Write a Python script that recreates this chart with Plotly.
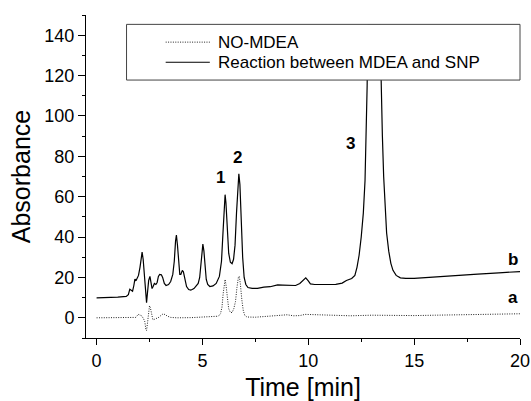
import plotly.graph_objects as go

# ---- data ----
series_names = ["NO-MDEA", "Reaction between MDEA and SNP"]

time_b = [0, 0.5, 1.0, 1.4, 1.5, 1.57, 1.63, 1.7, 1.76, 1.81, 1.86, 1.92, 1.98, 2.05, 2.1, 2.15,
          2.2, 2.26, 2.32, 2.36, 2.4, 2.46, 2.52, 2.57, 2.62, 2.67, 2.73, 2.8, 2.86, 2.92, 2.98,
          3.06, 3.12, 3.2, 3.28, 3.4, 3.5, 3.6, 3.67, 3.73, 3.77, 3.82, 3.87, 3.93, 3.98, 4.05,
          4.1, 4.17, 4.25, 4.35, 4.45, 4.6, 4.72, 4.8, 4.87, 4.93, 4.98, 5.02, 5.07, 5.12, 5.18,
          5.25, 5.35, 5.5, 5.65, 5.8, 5.9, 5.97, 6.03, 6.07, 6.11, 6.17, 6.24, 6.32, 6.4, 6.47,
          6.54, 6.61, 6.67, 6.72, 6.77, 6.83, 6.9, 6.97, 7.05, 7.15, 7.35, 7.6, 7.9, 8.2, 8.45,
          8.55, 8.8, 9.1, 9.4, 9.6, 9.75, 9.88, 10.0, 10.1, 10.3, 10.8, 11.3, 11.6, 11.8, 12.05,
          12.2, 12.3, 12.4, 12.5, 12.6, 12.68, 12.74, 12.78, 12.81, 12.83, 13.1, 13.37, 13.4,
          13.44, 13.5, 13.56, 13.62, 13.7, 13.8, 13.9, 14.0, 14.15, 14.35, 14.6, 15, 16, 17,
          18, 19, 20]
abs_b = [9.9, 10.0, 10.2, 10.6, 11.5, 14.2, 13.5, 13.2, 16, 19.2, 18.3, 19.5, 21, 25, 30.5, 32.5,
         29, 20, 11, 7.5, 12, 18.5, 20.5, 18, 14.5, 15.5, 17, 16.5, 17.5, 20.5, 21.5,
         21.3, 20, 17, 16, 16.5, 18, 21.5, 28, 38, 41, 36, 27, 21.5, 21.5, 23.5,
         22.8, 18.5, 15.5, 14, 13.7, 14.5, 16, 17, 20, 28, 35, 36.5, 33, 25, 19,
         16.5, 15.5, 15.8, 17, 20.5, 28, 42, 56, 61, 57, 44, 32, 27.5, 26.8, 29,
         36, 52, 66, 71.3, 66, 48, 30, 20, 16.5, 15, 14.6, 14.6, 15.2, 15.4, 15.8,
         16.3, 16.2, 16.2, 16, 17, 18.5, 19.8, 18.3, 16.8, 16.5, 16.5, 16.6, 17.2, 18.5, 19.5,
         21, 25, 31, 40, 52, 68, 90, 115, 140, 145, 145, 145, 138,
         115, 90, 70, 55, 42, 33, 27, 23.5, 21, 19.8, 19.5, 19.5, 20.1, 20.8,
         21.6, 22.3, 22.9]

time_a = [0, 1.0, 1.85, 1.97, 2.05, 2.13, 2.22, 2.28, 2.33, 2.36, 2.4, 2.45, 2.5, 2.54, 2.6, 2.66,
          2.72, 2.85, 2.95, 3.05, 3.15, 3.25, 3.35, 3.5, 3.8, 4.5, 5.0, 5.5, 5.75, 5.85, 5.92,
          5.98, 6.04, 6.07, 6.11, 6.17, 6.24, 6.32, 6.4, 6.48, 6.56, 6.63, 6.7, 6.74, 6.79,
          6.86, 6.93, 7.0, 7.1, 7.5, 8.2, 8.7, 9.0, 9.3, 9.6, 9.85, 10.3, 11, 12, 13, 14, 15,
          16, 17, 18, 19, 20]
abs_a = [0, 0, 0.2, 1.7, 1.5, 1.0, -0.5, -2, -6, -6.3, -3, 2, 6, 5, 1, -1,
         -0.8, -0.3, 0.3, 1.3, 2, 1.5, 0.8, 0.2, 0, 0.1, 0.3, 0.5, 0.8, 2, 5,
         12, 18.5, 19, 16.5, 9, 4.5, 2.7, 2.6, 4.5, 8, 15, 20.2, 20.5, 17,
         9, 3.5, 1.2, 0.4, 0.3, 0.7, 1.0, 1.5, 1.0, 1.1, 1.7, 1.6, 1.2, 1.0, 1.3, 1.1, 1.1,
         1.3, 1.4, 1.5, 1.7, 2.0]

peak_labels = ["1", "2", "3", "b", "a"]
peak_label_x = [5.86, 6.66, 11.97, 19.65, 19.68]
peak_label_y = [69.3, 79.5, 86.3, 29.1, 10.1]

x_ticks = [0, 5, 10, 15, 20]
y_ticks = [0, 20, 40, 60, 80, 100, 120, 140]

FONT = "Arial, 'Liberation Sans', sans-serif"
DOT = "1px,1.4px"
DOT_COLOR = "#222222"

fig = go.Figure()
fig.add_trace(go.Scatter(x=time_a, y=abs_a, mode="lines", name=series_names[0],
                         line=dict(color=DOT_COLOR, width=1, dash=DOT), showlegend=False))
fig.add_trace(go.Scatter(x=time_b, y=abs_b, mode="lines", name=series_names[1],
                         line=dict(color="black", width=1.2), showlegend=False))

for t, x, y in zip(peak_labels, peak_label_x, peak_label_y):
    fig.add_annotation(x=x, y=y, text="<b>%s</b>" % t, showarrow=False,
                       font=dict(family=FONT, size=17, color="black"))

# manual legend box (paper coordinates)
lx0, lx1, ly0, ly1 = 0.0934, 1.0, 0.7986, 0.971
fig.add_shape(type="rect", xref="paper", yref="paper", x0=lx0, x1=lx1, y0=ly0, y1=ly1,
              line=dict(color="#444444", width=1), fillcolor="white", layer="above")
legend_rows_y = [0.916, 0.8537]
legend_dash = [DOT, "solid"]
legend_color = [DOT_COLOR, "black"]
for name, yy, dsh, col in zip(series_names, legend_rows_y, legend_dash, legend_color):
    fig.add_shape(type="line", xref="paper", yref="paper", x0=0.1836, x1=0.2853, y0=yy, y1=yy,
                  line=dict(color=col, width=1, dash=dsh), layer="above")
    fig.add_annotation(xref="paper", yref="paper", x=0.2987, y=yy, text=name, showarrow=False,
                       xanchor="left", yanchor="middle",
                       font=dict(family=FONT, size=17, color="black"))

axis_common = dict(showline=True, linecolor="black", linewidth=1, ticks="outside",
                   tickcolor="black", tickwidth=1, showgrid=False, zeroline=False,
                   mirror=False, tickfont=dict(family=FONT, size=18, color="black"))

fig.update_xaxes(range=[-0.5, 20], tickvals=x_ticks, ticklen=6,
                 minor=dict(ticks="outside", dtick=2.5, ticklen=3, tickcolor="black", showgrid=False),
                 title=dict(text="Time [min]", font=dict(family=FONT, size=25, color="black"), standoff=10),
                 **axis_common)
fig.update_yaxes(range=[-10, 150], tickvals=y_ticks, ticklen=7,
                 minor=dict(ticks="outside", tick0=-10, dtick=20, ticklen=3, tickcolor="black", showgrid=False),
                 title=dict(text="Absorbance", font=dict(family=FONT, size=25, color="black"), standoff=6),
                 **axis_common)

fig.update_layout(width=531, height=401, margin=dict(l=86, r=11, t=15, b=63, autoexpand=False),
                  plot_bgcolor="white", paper_bgcolor="white",
                  font=dict(family=FONT, color="black"), showlegend=False)

fig.write_html("out.html", config={"displayModeBar": False},
               post_script="document.body.style.margin='0';document.body.style.overflow='hidden';")
